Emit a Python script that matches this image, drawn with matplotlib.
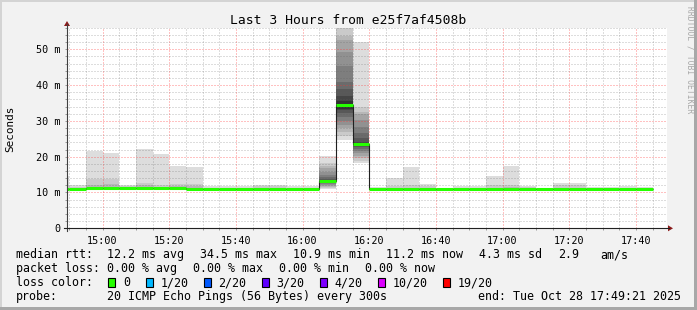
import matplotlib
matplotlib.use("Agg")
import matplotlib.pyplot as plt
import matplotlib.transforms as mtransforms
from matplotlib.patches import Rectangle, Polygon
from matplotlib.lines import Line2D

W, H = 697, 310
MONO = "DejaVu Sans Mono"

# end time of each 300 s step (the first one is cut by the graph start)
bin_end = ["14:50", "14:55", "15:00", "15:05", "15:10", "15:15", "15:20", "15:25",
           "15:30", "15:35", "15:40", "15:45", "15:50", "15:55", "16:00", "16:05",
           "16:10", "16:15", "16:20", "16:25", "16:30", "16:35", "16:40", "16:45",
           "16:50", "16:55", "17:00", "17:05", "17:10", "17:15", "17:20", "17:25",
           "17:30", "17:35", "17:40", "17:45"]

# median rtt in ms
median = [11.0, 11.0, 11.2, 11.2, 11.2, 11.3, 11.3, 11.2,
          11.0, 11.0, 11.1, 11.1, 11.1, 11.1, 11.1, 11.1,
          13.1, 34.5, 23.5, 11.1, 11.1, 11.1, 11.1, 10.9,
          11.1, 11.1, 11.1, 10.9, 11.1, 11.1, 11.1, 11.1,
          11.1, 11.1, 11.1, 11.1]

# pings above the median, highest first (ms)
smoke_top = [
    [14.6, 11.8], [12.1, 11.6], [21.6, 13.7, 12.1], [21.0, 13.7, 12.3],
    [12.1, 11.7], [22.1, 12.6, 12.0], [20.8, 12.2], [17.5, 12.4, 11.9],
    [17.2, 12.4, 11.8], [11.8], [11.8], [11.8],
    [12.1, 11.7], [12.1, 11.7], [11.8], [11.8],
    [20.2, 18.2, 17.5, 16.8, 15.8, 15.0, 14.4, 13.9, 13.5, 13.2],
    [58.0, 55.9, 53.8, 52.6, 49.2, 45.4, 40.8, 38.9, 37.0, 35.6],
    [51.9, 33.8, 32.4, 32.0, 30.2, 28.4, 26.6, 25.2, 24.2, 23.6],
    [11.4], [14.1, 11.7], [17.2, 12.0], [12.4, 11.8], [11.2],
    [11.8], [11.8], [14.6, 12.0], [17.5, 12.2, 11.6],
    [11.9, 11.6], [11.2], [12.7, 12.0], [12.7, 12.0],
    [11.4], [11.4], [11.8], [11.4],
]

# pings below the median, lowest first (ms)
smoke_bot = [
    [10.7], [10.6, 10.7, 10.7, 10.7, 10.8], [10.8], [10.8],
    [10.6, 10.8], [10.9], [10.9], [10.8],
    [10.6], [10.6], [10.7], [10.7],
    [10.5, 10.6, 10.6, 10.7, 10.7], [10.7], [10.7], [10.7],
    [10.9, 11.3, 11.6, 11.9, 12.2, 12.5, 12.7, 12.9, 13.0, 13.1],
    [24.7, 25.8, 27.0, 27.9, 28.8, 30.0, 31.2, 32.3, 33.0, 33.4],
    [18.3, 18.9, 19.6, 20.2, 20.9, 21.6, 22.1, 22.6, 23.0, 23.3],
    [10.8], [10.8], [10.7], [10.7], [10.4, 10.5, 10.5, 10.6, 10.6],
    [10.7], [10.7], [10.7], [10.3, 10.4],
    [10.7], [10.8], [10.8], [10.8],
    [10.8], [10.8], [10.8], [10.8],
]

graph_start = "14:49:21"
graph_end = "17:49:21"
y_top = 56.0
y_ticks = [0, 10, 20, 30, 40, 50]
y_labels = ["0", "10 m", "20 m", "30 m", "40 m", "50 m"]
x_labels = ["15:00", "15:20", "15:40", "16:00", "16:20", "16:40", "17:00", "17:20", "17:40"]

title = "Last 3 Hours from e25f7af4508b"
rtt_stats = ["12.2 ms avg", "34.5 ms max", "10.9 ms min", "11.2 ms now", "4.3 ms sd", "2.9", "am/s"]
loss_stats = ["0.00 % avg", "0.00 % max", "0.00 % min", "0.00 % now"]
loss_labels = ["0", "1/20", "2/20", "3/20", "4/20", "10/20", "19/20"]
loss_colors = ["#26ff00", "#00b8ff", "#0059ff", "#5e00ff", "#7e00ff", "#dd00ff", "#ff0000"]
probe_text = "20 ICMP Echo Pings (56 Bytes) every 300s"
end_text = "end: Tue Oct 28 17:49:21 2025"


def minutes(s):
    p = [int(v) for v in s.split(":")]
    m = p[0] * 60 + p[1]
    if len(p) > 2:
        m += p[2] / 60.0
    return m


fig = plt.figure(figsize=(W / 100, H / 100), dpi=100)
fig.patch.set_facecolor("#f2f2f2")
px = mtransforms.Affine2D().scale(1.0 / W, -1.0 / H).translate(0, 1) + fig.transFigure

# frame shading
fig.add_artist(Rectangle((0, 0), W, 2, transform=px, color="#d4d4d4", lw=0))
fig.add_artist(Rectangle((0, 0), 2, H, transform=px, color="#d4d4d4", lw=0))
fig.add_artist(Rectangle((0, H - 3), W, 3, transform=px, color="#a8a8a8", lw=0))
fig.add_artist(Rectangle((W - 3, 0), 3, H, transform=px, color="#a8a8a8", lw=0))

ax = fig.add_axes([67 / W, 1 - 228.3 / H, 600 / W, 200.5 / H])
ax.set_facecolor("white")
ax.set_xlim(minutes(graph_start), minutes(graph_end))
ax.set_ylim(0, y_top)

ends = [minutes(t) for t in bin_end]
starts = [e - 5 for e in ends]

# smoke: outer pair of pings lightest, inner pairs darker (smokeping style)
half = 10
for i in range(half):
    g = int(190 / half * (half - (i + 1))) + 50
    col = "#%02x%02x%02x" % (g, g, g)
    for s, m, top, bot in zip(starts, median, smoke_top, smoke_bot):
        hi = top[i] if i < len(top) else None
        lo = bot[i] if i < len(bot) else None
        if hi is None and lo is None:
            continue
        hi = m if hi is None else hi
        lo = m if lo is None else lo
        ax.bar(s, hi - lo, bottom=lo, width=5, align="edge", color=col, lw=0,
               zorder=1, antialiased=False)

# grid (semi transparent, drawn over the smoke like rrdtool)
ax.set_axisbelow(False)
ax.set_xticks([minutes(t) for t in x_labels])
ax.set_xticklabels(x_labels)
ax.set_xticks([m for m in range(890, 1070, 5)], minor=True)
ax.set_yticks(y_ticks)
ax.set_yticklabels(y_labels)
ax.set_yticks([v for v in range(2, 57, 2) if v % 10], minor=True)
ax.grid(which="minor", color="#606060", alpha=0.42, linestyle=(0, (1, 2)), lw=0.72)
ax.grid(which="major", color="#ff3333", alpha=0.6, linestyle=(0, (1, 2)), lw=0.72)
ax.tick_params(which="both", length=1.5, width=0.7, color="#999999",
               labelsize=7.3, labelfontfamily=MONO, pad=3.2)
ax.tick_params(axis="x", pad=4.0)
for sp in ax.spines.values():
    sp.set_visible(False)

# median: thin dark step plus thick loss colour
ax.stairs(median, starts + [ends[-1]], baseline=None, color="#202020", lw=0.8, zorder=3)
ax.hlines(median, starts, ends, colors=loss_colors[0], lw=2.2, zorder=4, capstyle="butt")

# axes with arrows
fig.add_artist(Line2D([67, 67], [231, 24], transform=px, color="#404040", lw=0.8))
fig.add_artist(Line2D([64, 669], [228.3, 228.3], transform=px, color="#202020", lw=0.8))
fig.add_artist(Polygon([[64, 26], [70, 26], [67, 21]], closed=True, transform=px,
                       color="#8b1a1a", lw=0))
fig.add_artist(Polygon([[668, 225.3], [668, 231.3], [673, 228.3]], closed=True, transform=px,
                       color="#8b1a1a", lw=0))

# texts
fig.text(348.5, 24, title, transform=px, family=MONO, size=9.4, ha="center", va="baseline")
fig.text(10, 129, "Seconds", transform=px, family=MONO, size=7.9, rotation=90,
         ha="center", va="center")
fig.text(690, 60, "RRDTOOL / TOBI OETIKER", transform=px, family=MONO, size=5.8,
         rotation=270, ha="center", va="center", color="#a8a8a8")

leg = dict(transform=px, family=MONO, size=8.35, va="baseline")
fig.text(16, 258, "median rtt:", **leg)
for s, x in zip(rtt_stats, [107.3, 200, 293.3, 386, 479, 558.3, 600]):
    fig.text(x, 258, s, **leg)
fig.text(16, 272, "packet loss:", **leg)
for s, x in zip(loss_stats, [107.3, 193.3, 279.3, 365]):
    fig.text(x, 272, s, **leg)
fig.text(16, 286, "loss color:", **leg)
for s, c, x in zip(loss_labels, loss_colors, [108.3, 145.7, 203.7, 261.7, 320, 378.3, 442.7]):
    fig.add_artist(Rectangle((x, 277.5), 7, 9.5, transform=px, facecolor=c,
                             edgecolor="black", lw=0.8))
    fig.text(x + 14.8, 286, s, **leg)
fig.text(16, 300.3, "probe:", **leg)
fig.text(107.3, 300.3, probe_text, **leg)
fig.text(478.3, 300.3, end_text, **leg)

fig.savefig("out.png", dpi=100, facecolor=fig.get_facecolor())
